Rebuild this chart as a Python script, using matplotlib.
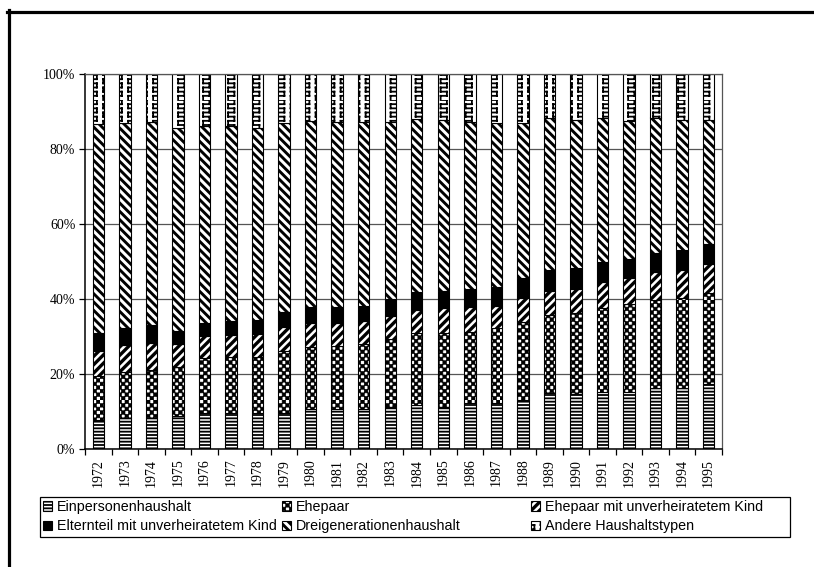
import numpy as np
import matplotlib
matplotlib.use("Agg")
import matplotlib.pyplot as plt
import matplotlib.hatch as mhatch
from matplotlib.path import Path
from matplotlib.lines import Line2D
from matplotlib.patches import Rectangle

# --- data: share of households (%) per year ---
years = [str(y) for y in range(1972, 1996)]

einpersonen = [7.7, 8.2, 8.4, 8.8, 9.5, 9.7, 9.5, 9.5, 10.6, 10.8, 10.8, 11.3,
               11.7, 11.3, 12.2, 12.4, 13.2, 15.0, 14.8, 15.3, 15.3, 16.2, 16.4, 17.3]
ehepaar = [11.8, 12.4, 12.7, 13.0, 14.9, 14.9, 15.1, 16.6, 16.5, 16.7, 17.2, 18.1,
           19.3, 19.7, 19.1, 19.8, 20.7, 20.7, 21.5, 22.2, 23.5, 23.5, 24.0, 24.2]
ehepaar_kind = [6.6, 7.1, 7.3, 6.3, 5.7, 5.7, 6.1, 6.5, 6.4, 6.2, 6.2, 6.1,
                6.2, 6.5, 6.5, 5.9, 6.3, 6.5, 6.5, 7.1, 6.7, 7.4, 7.3, 7.8]
elternteil = [4.9, 4.6, 4.7, 3.4, 3.6, 3.8, 3.7, 4.0, 4.3, 4.1, 4.0, 4.5,
              4.8, 4.6, 4.8, 5.0, 5.3, 5.5, 5.6, 5.3, 5.3, 5.3, 5.4, 5.3]
dreigeneration = [55.8, 54.5, 54.0, 54.2, 52.4, 52.0, 51.1, 50.2, 49.7, 49.5, 49.1, 47.3,
                  45.9, 45.6, 44.7, 43.7, 41.5, 40.6, 39.3, 38.3, 36.7, 36.0, 34.6, 33.1]
andere = [13.2, 13.2, 12.9, 14.3, 13.9, 13.9, 14.5, 13.2, 12.5, 12.7, 12.7, 12.7,
          12.1, 12.3, 12.7, 13.2, 13.0, 11.7, 12.3, 11.8, 12.5, 11.6, 12.3, 12.3]

labels = ["Einpersonenhaushalt", "Ehepaar", "Ehepaar mit unverheiratetem Kind",
          "Elternteil mit unverheiratetem Kind", "Dreigenerationenhaushalt",
          "Andere Haushaltstypen"]
series = [einpersonen, ehepaar, ehepaar_kind, elternteil, dreigeneration, andere]


# --- two extra hatch patterns: checkerboard ('o') and meander ('O') ---
class CheckerHatch(mhatch.HatchPatternBase):
    # 7 cells per inch for each 'o' (kept even so the tile repeats cleanly)
    def __init__(self, hatch, density):
        self.n = hatch.count('o') * 7
        if self.n % 2:
            self.n += 1
        self.num_vertices = (self.n * self.n // 2) * 5

    def set_vertices_and_codes(self, vertices, codes):
        s = 1.0 / self.n
        sq = np.array([[0, 0], [1, 0], [1, 1], [0, 1], [0, 0]]) * s
        sq_codes = [Path.MOVETO, Path.LINETO, Path.LINETO, Path.LINETO, Path.CLOSEPOLY]
        k = 0
        for i in range(self.n):
            for j in range(self.n):
                if (i + j) % 2 == 0:
                    vertices[k:k + 5] = sq + [i * s, j * s]
                    codes[k:k + 5] = sq_codes
                    k += 5


class MeanderHatch(mhatch.HatchPatternBase):
    def __init__(self, hatch, density):
        self.n = hatch.count('O') * density
        self.m = max(self.n * 2 // 3, 1) if self.n else 0
        self.num_vertices = self.n * self.m * 8

    def set_vertices_and_codes(self, vertices, codes):
        h = 1.0 / self.n
        w = 1.0 / self.m
        segs = np.array([[[0.25, 0.0], [0.25, 0.5]],
                         [[0.25, 0.5], [0.75, 0.5]],
                         [[0.75, 0.5], [0.75, 1.0]],
                         [[0.75, 1.0], [0.25, 1.0]]]).reshape(-1, 2) * [w, h]
        seg_codes = [Path.MOVETO, Path.LINETO] * 4
        k = 0
        for c in range(self.m):
            for r in range(self.n):
                vertices[k:k + 8] = segs + [c * w, r * h]
                codes[k:k + 8] = seg_codes
                k += 8


mhatch._hatch_types = [CheckerHatch if t is mhatch.SmallCircles else
                       MeanderHatch if t is mhatch.LargeCircles else t
                       for t in mhatch._hatch_types]


def with_hatch_lw(artist, lw):
    # per-artist hatch width: set it directly if possible, and around each draw
    if hasattr(artist, "set_hatch_linewidth"):
        artist.set_hatch_linewidth(lw)
    orig = artist.draw

    def draw(renderer):
        with plt.rc_context({"hatch.linewidth": lw}):
            orig(renderer)
    artist.draw = draw


hatches = ["-----", "oooo", "////", None, "\\\\\\\\", "OO"]
hatch_lw = [1.3, 0.45, 2.4, 1.0, 2.1, 1.3]
facecolors = ["white", "white", "white", "black", "white", "white"]

W, H = 814, 567
fig = plt.figure(figsize=(W / 100, H / 100), dpi=100)
ax = fig.add_axes([85 / W, 1 - 449 / H, (722 - 85) / W, (449 - 74) / H])

x = np.arange(len(years))
bottom = np.zeros(len(years))
containers = []
for vals, hatch, lw, fc, lab in zip(series, hatches, hatch_lw, facecolors, labels):
    with plt.rc_context({"hatch.linewidth": lw}):
        bc = ax.bar(x, vals, width=0.43, bottom=bottom, facecolor=fc,
                    edgecolor="black", linewidth=0.8, hatch=hatch, label=lab)
    for p in bc:
        with_hatch_lw(p, lw)
    containers.append(bc)
    bottom += np.array(vals)

ax.set_xlim(-0.5, len(years) - 0.5)
ax.set_ylim(0, 100)
ax.set_axisbelow(True)
ax.yaxis.grid(True, color="#555555", linewidth=0.9)

ax.set_yticks(range(0, 101, 20))
ax.set_yticklabels([f"{v}%" for v in range(0, 101, 20)],
                   family="Liberation Serif", fontsize=10)
ax.set_xticks(x)
ax.set_xticklabels(years, rotation=90, family="Liberation Serif", fontsize=10)
ax.set_xticks(np.arange(-0.5, len(years)), minor=True)
ax.tick_params(axis="x", which="major", length=0, pad=7)
ax.tick_params(axis="x", which="minor", length=4, width=0.9, direction="out")
ax.tick_params(axis="y", length=4, width=0.9, direction="out", pad=3)

for side in ("left", "bottom"):
    ax.spines[side].set_color("black")
    ax.spines[side].set_linewidth(1.1)
for side in ("top", "right"):
    ax.spines[side].set_color("#555555")
    ax.spines[side].set_linewidth(0.9)

# legend: three columns placed like the original, one box around them
order = [[0, 3], [1, 4], [2, 5]]
col_x = [43, 282, 531]
for cols, cx in zip(order, col_x):
    leg = fig.legend([containers[i] for i in cols], [labels[i] for i in cols],
                     loc="upper left", bbox_to_anchor=(cx / W, 1 - 500 / H),
                     frameon=False, prop={"family": "Liberation Sans", "size": 10.3},
                     handlelength=0.65, handleheight=0.65, handletextpad=0.3,
                     labelspacing=0.38, borderpad=0, borderaxespad=0)
    for h, i in zip(leg.legend_handles, cols):
        with_hatch_lw(h, hatch_lw[i])

fig.patches.append(Rectangle((40 / W, 1 - 537 / H), 750 / W, 40 / H,
                             transform=fig.transFigure, fill=False,
                             edgecolor="black", linewidth=0.9))

# outer frame (top and left edges only)
fig.add_artist(Line2D([7 / W, 1], [1 - 11.5 / H, 1 - 11.5 / H],
                      transform=fig.transFigure, color="black", linewidth=2.3))
fig.add_artist(Line2D([8.5 / W, 8.5 / W], [0, 1 - 10 / H],
                      transform=fig.transFigure, color="black", linewidth=2.3))

fig.savefig("out.png", dpi=100)
